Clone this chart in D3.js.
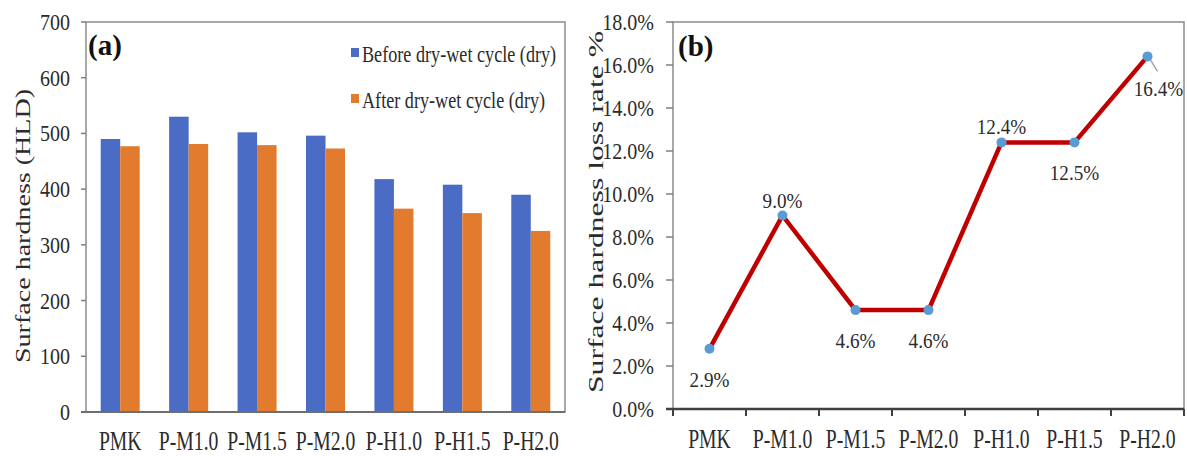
<!DOCTYPE html>
<html>
<head>
<meta charset="utf-8">
<script src="https://cdn.jsdelivr.net/npm/d3@7/dist/d3.min.js"></script>
<style>
  html, body { margin: 0; padding: 0; background: #fff; }
  text { font-family: "Liberation Serif", "Times New Roman", serif; fill: #2b2b2b; }
</style>
</head>
<body>
<svg id="chart" width="1187" height="456"></svg>
<script>
// Data
const categories = ["PMK", "P-M1.0", "P-M1.5", "P-M2.0", "P-H1.0", "P-H1.5", "P-H2.0"];
const seriesNames = ["Before dry-wet cycle (dry)", "After dry-wet cycle (dry)"];
const beforeValues = [490, 530, 502, 496, 418, 408, 390];
const afterValues = [477, 481, 479, 473, 365, 357, 325];
const lossValues = [2.8, 9.0, 4.6, 4.6, 12.4, 12.4, 16.4];
const lossLabels = ["2.9%", "9.0%", "4.6%", "4.6%", "12.4%", "12.5%", "16.4%"];
const hardnessTicks = [0, 100, 200, 300, 400, 500, 600, 700];
const lossTicks = [0, 2, 4, 6, 8, 10, 12, 14, 16, 18];

const colors = ["#4a6cc5", "#e27b2d"];
const svg = d3.select("#chart");

// text helper: the source image is squashed horizontally, so glyphs get a scale
function label(g, str, x, y, size, sx, anchor, sy) {
  return g.append("text")
    .attr("transform", `translate(${x},${y}) scale(${sx},${sy || 1})`)
    .attr("text-anchor", anchor || "middle")
    .style("font-size", size + "px")
    .text(str);
}

// ---------- panel (a): grouped bars ----------
const a = { left: 86, right: 565, top: 22, bottom: 412 };
const gA = svg.append("g");

const xA = d3.scaleBand()
  .domain(categories)
  .range([a.left, a.right])
  .paddingInner(0.43)
  .paddingOuter(0.215);

const xSub = d3.scaleBand()
  .domain([0, 1])
  .range([0, xA.bandwidth()]);

const yA = d3.scaleLinear()
  .domain([0, 700])
  .range([a.bottom, a.top]);

// frame
gA.append("rect")
  .attr("x", a.left).attr("y", a.top)
  .attr("width", a.right - a.left).attr("height", a.bottom - a.top)
  .attr("fill", "none").attr("stroke", "#8c8c8c").attr("stroke-width", 1.5);

// bars
const rows = categories.map((c, i) => ({ cat: c, vals: [beforeValues[i], afterValues[i]] }));
gA.selectAll(".grp")
  .data(rows)
  .enter()
  .append("g")
  .attr("transform", d => `translate(${xA(d.cat)},0)`)
  .selectAll("rect")
  .data(d => d.vals.map((v, k) => ({ k: k, v: v })))
  .enter()
  .append("rect")
  .attr("x", d => xSub(d.k))
  .attr("y", d => yA(d.v))
  .attr("width", xSub.bandwidth())
  .attr("height", d => yA(0) - yA(d.v))
  .attr("fill", d => colors[d.k]);

// y axis ticks + labels
hardnessTicks.forEach(t => {
  gA.append("line")
    .attr("x1", a.left - 5).attr("x2", a.left)
    .attr("y1", yA(t)).attr("y2", yA(t))
    .attr("stroke", "#7f7f7f").attr("stroke-width", 1.5);
  label(gA, t, a.left - 16, yA(t) + 8, 23, 0.87, "end");
});

// bottom axis line
gA.append("line")
  .attr("x1", a.left - 5).attr("x2", a.right)
  .attr("y1", a.bottom).attr("y2", a.bottom)
  .attr("stroke", "#6e6e6e").attr("stroke-width", 2);

// category labels
categories.forEach(c => {
  label(gA, c, xA(c) + xA.bandwidth() / 2, 450, 24, 0.82, "middle", 1.12);
});

// y title
gA.append("text")
  .attr("transform", "translate(30,226) rotate(-90) scale(1,0.87)")
  .attr("text-anchor", "middle")
  .attr("textLength", 274)
  .attr("lengthAdjust", "spacingAndGlyphs")
  .style("font-size", "25px")
  .text("Surface hardness (HLD)");

// panel tag
gA.append("text")
  .attr("x", 88).attr("y", 55)
  .style("font-size", "29px").style("font-weight", "bold").style("fill", "#111")
  .text("(a)");

// legend
seriesNames.forEach((s, i) => {
  const ly = 62 + i * 46;
  gA.append("rect")
    .attr("x", 351).attr("y", ly - 14)
    .attr("width", 8).attr("height", 9)
    .attr("fill", colors[i]);
  label(gA, s, 362, ly, 23, 0.79, "start");
});

// ---------- panel (b): loss rate line ----------
const b = { left: 673, right: 1184, top: 22, bottom: 409 };
const gB = svg.append("g");

const xB = d3.scaleBand()
  .domain(categories)
  .range([b.left, b.right]);

const yB = d3.scaleLinear()
  .domain([0, 18])
  .range([b.bottom, b.top]);

gB.append("rect")
  .attr("x", b.left).attr("y", b.top)
  .attr("width", b.right - b.left).attr("height", b.bottom - b.top)
  .attr("fill", "none").attr("stroke", "#8c8c8c").attr("stroke-width", 1.5);

lossTicks.forEach(t => {
  gB.append("line")
    .attr("x1", b.left - 7).attr("x2", b.left)
    .attr("y1", yB(t)).attr("y2", yB(t))
    .attr("stroke", "#7f7f7f").attr("stroke-width", 1.5);
  label(gB, t.toFixed(1) + "%", b.left - 19, yB(t) + 8, 23, 0.87, "end");
});

// bottom axis with boundary ticks
gB.append("line")
  .attr("x1", b.left - 7).attr("x2", b.right)
  .attr("y1", b.bottom).attr("y2", b.bottom)
  .attr("stroke", "#404040").attr("stroke-width", 2.5);
categories.concat([null]).forEach(c => {
  const tx = c ? xB(c) : b.right;
  gB.append("line")
    .attr("x1", tx).attr("x2", tx)
    .attr("y1", b.bottom).attr("y2", b.bottom + 7)
    .attr("stroke", "#404040").attr("stroke-width", 2);
});

categories.forEach(c => {
  label(gB, c, xB(c) + xB.bandwidth() / 2, 448, 24, 0.82, "middle", 1.12);
});

gB.append("text")
  .attr("transform", "translate(603,212) rotate(-90) scale(1,0.87)")
  .attr("text-anchor", "middle")
  .attr("textLength", 362)
  .attr("lengthAdjust", "spacingAndGlyphs")
  .style("font-size", "25px")
  .text("Surface hardness loss rate %");

gB.append("text")
  .attr("x", 678).attr("y", 56)
  .style("font-size", "29px").style("font-weight", "bold").style("fill", "#111")
  .text("(b)");

const cx = c => xB(c) + xB.bandwidth() / 2;
const pts = categories.map((c, i) => ({ c: c, v: lossValues[i], lab: lossLabels[i] }));

const line = d3.line()
  .x(d => cx(d.c))
  .y(d => yB(d.v));

gB.append("path")
  .datum(pts)
  .attr("d", line)
  .attr("fill", "none")
  .attr("stroke", "#c00000")
  .attr("stroke-width", 4.5)
  .attr("stroke-linejoin", "round");

// leader line for the last label
const last = pts[pts.length - 1];
gB.append("line")
  .attr("x1", cx(last.c) + 2).attr("y1", yB(last.v) + 2)
  .attr("x2", cx(last.c) + 10).attr("y2", yB(last.v) + 15)
  .attr("stroke", "#a6a6a6").attr("stroke-width", 1.5);

gB.selectAll(".pt")
  .data(pts)
  .enter()
  .append("circle")
  .attr("cx", d => cx(d.c))
  .attr("cy", d => yB(d.v))
  .attr("r", 5)
  .attr("fill", "#5b9bd5");

// data labels: above or below the point
const labelPos = ["below", "above", "below", "below", "above", "below", "last"];
pts.forEach((d, i) => {
  let x = cx(d.c), y = yB(d.v);
  if (labelPos[i] === "above") y -= 8;
  else if (labelPos[i] === "below") y += 38;
  else { x += 11; y += 40; }
  label(gB, d.lab, x, y, 22, 0.87);
});
</script>
</body>
</html>
